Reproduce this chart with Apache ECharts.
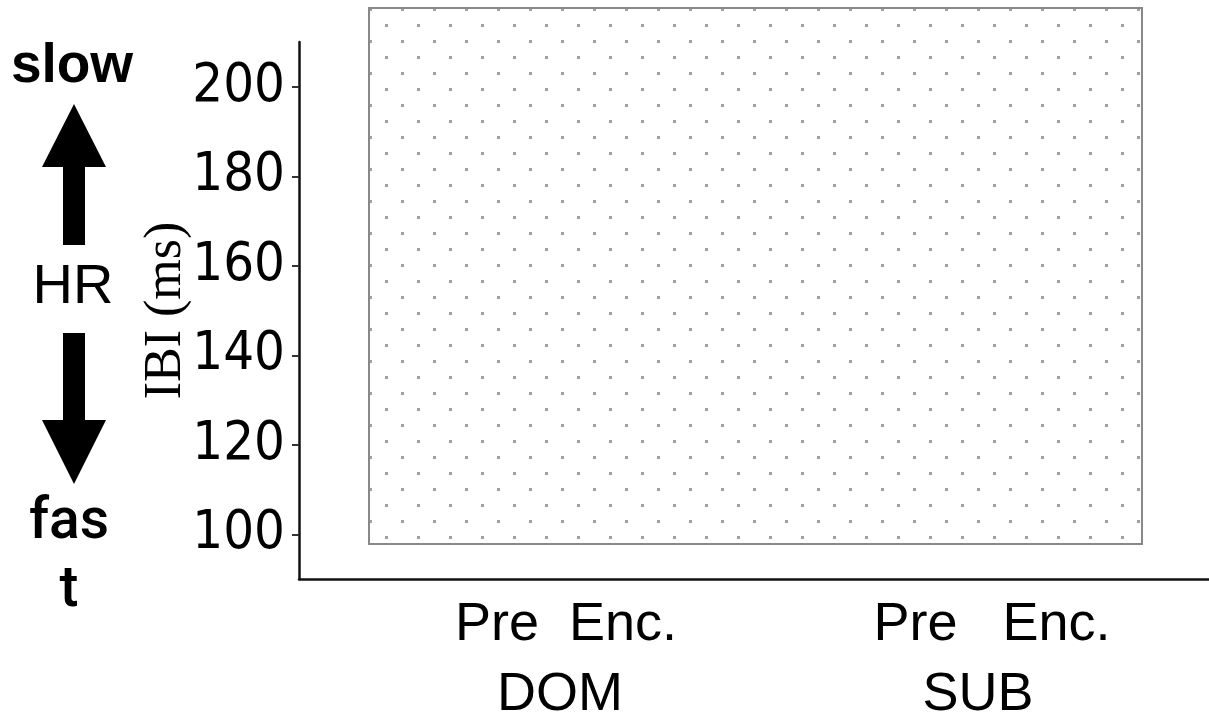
<!DOCTYPE html>
<html>
<head>
<meta charset="utf-8">
<script src="https://cdn.jsdelivr.net/npm/echarts@6/dist/echarts.min.js"></script>
<style>
html,body{margin:0;padding:0;background:#fff;}
#chart{width:1209px;height:722px;}
</style>
</head>
<body>
<div id="chart"></div>
<script>
// ---- data ----
var groups = ['DOM', 'SUB'];
var conditions = ['Pre', 'Enc.'];
var yTicks = [100, 120, 140, 160, 180, 200];
var yMin = 90, yMax = 210;
var yName = 'IBI (ms)';
var hrTop = 'slow', hrMid = 'HR', hrBottom = 'fas\nt';

// dotted fill pattern
var tile = document.createElement('canvas');
tile.width = 32; tile.height = 32;
var tc = tile.getContext('2d');
tc.fillStyle = '#a0a0a0';
tc.fillRect(0, 0, 3, 3);
tc.fillRect(16, 16, 3, 3);

var chart = echarts.init(document.getElementById('chart'), null, {renderer: 'canvas'});

var condLabels = groups.map(function (g, i) {
  return conditions.join(i === 0 ? '  ' : '   ');
});

var option = {
  backgroundColor: '#ffffff',
  animation: false,
  grid: [
    {left: 299, right: 0, top: 42, bottom: 143},
    {left: 353, right: 4, top: 42, bottom: 143},
    {left: 351, right: 22, top: 42, bottom: 143}
  ],
  xAxis: [
    {
      gridIndex: 0, type: 'category', data: groups,
      axisLine: {show: true, lineStyle: {color: '#111', width: 2.5}},
      axisTick: {show: false}, axisLabel: {show: false}, splitLine: {show: false}
    },
    {
      gridIndex: 1, type: 'category', data: condLabels,
      axisLine: {show: false}, axisTick: {show: false}, splitLine: {show: false},
      axisLabel: {
        show: true, interval: 0, margin: 19, color: '#000',
        fontFamily: '"Liberation Sans", Arial, sans-serif', fontSize: 54
      }
    },
    {
      gridIndex: 2, type: 'category', data: groups,
      axisLine: {show: false}, axisTick: {show: false}, splitLine: {show: false},
      axisLabel: {
        show: true, interval: 0, margin: 100, color: '#000',
        fontFamily: '"Liberation Sans", Arial, sans-serif', fontSize: 54
      }
    }
  ],
  yAxis: [
    {
      gridIndex: 0, type: 'value', min: yMin, max: yMax,
      name: yName, nameLocation: 'middle', nameGap: 107, nameRotate: 90,
      nameMoveOverlap: false,
      nameTextStyle: {color: '#000', fontFamily: '"Liberation Serif", "Times New Roman", serif', fontSize: 52},
      axisLine: {show: true, lineStyle: {color: '#111', width: 2.5}},
      axisTick: {show: true, length: 7, customValues: yTicks, lineStyle: {color: '#333', width: 2}},
      axisLabel: {
        show: true, customValues: yTicks, margin: 14, color: '#000',
        fontFamily: '"Liberation Sans Narrow", "DejaVu Sans Condensed", sans-serif', fontSize: 54
      },
      splitLine: {show: false}
    },
    {gridIndex: 1, type: 'value', min: yMin, max: yMax, show: false},
    {gridIndex: 2, type: 'value', min: yMin, max: yMax, show: false}
  ],
  series: [],
  graphic: [
    {
      type: 'rect', x: 369, y: 8, z: 10,
      shape: {x: 0, y: 0, width: 773, height: 536},
      style: {fill: {image: tile, repeat: 'repeat'}, stroke: '#888888', lineWidth: 2}
    },
    {
      type: 'text', x: 72, y: 67, z: 10,
      style: {text: hrTop, align: 'center', verticalAlign: 'middle', fill: '#000',
              font: 'bold 55px "Liberation Sans", Arial, sans-serif'}
    },
    {
      type: 'polygon', z: 10,
      shape: {points: [[74, 104], [106, 167], [85, 167], [85, 245], [63, 245], [63, 167], [42, 167]]},
      style: {fill: '#000'}
    },
    {
      type: 'text', x: 73, y: 288, z: 10,
      style: {text: hrMid, align: 'center', verticalAlign: 'middle', fill: '#000',
              font: 'normal 56px "Liberation Sans", Arial, sans-serif'}
    },
    {
      type: 'polygon', z: 10,
      shape: {points: [[63, 333], [85, 333], [85, 420], [106, 420], [74, 484], [42, 420], [63, 420]]},
      style: {fill: '#000'}
    },
    {
      type: 'text', x: 69, y: 558, z: 10,
      style: {text: hrBottom, align: 'center', verticalAlign: 'middle', fill: '#000', lineHeight: 68,
              font: '500 57px Roboto, "Liberation Sans", sans-serif'}
    }
  ]
};
chart.setOption(option);
</script>
</body>
</html>
